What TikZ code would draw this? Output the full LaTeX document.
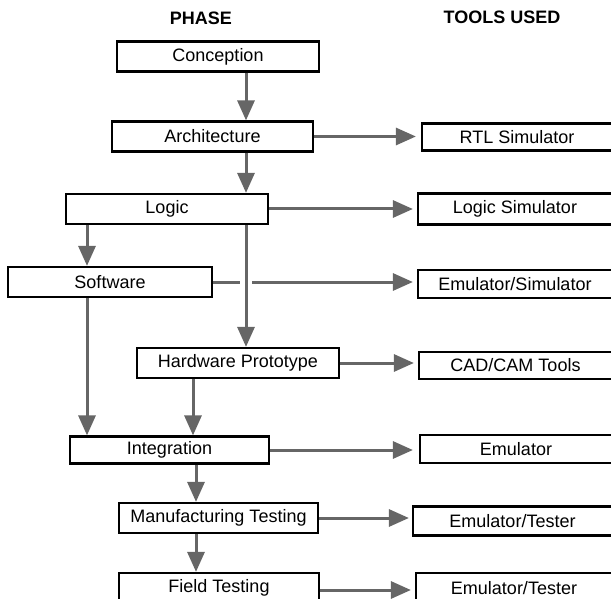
\documentclass[tikz,border=0pt]{standalone}
\usepackage{fontspec}
\setmainfont{Liberation Sans}
\usetikzlibrary{arrows.meta,positioning}

\begin{document}
\begin{tikzpicture}[x=1pt,y=-1pt,
    font=\fontsize{18}{21}\selectfont,
    ph/.style={draw,line width=2.2pt,minimum height=30pt,inner sep=0pt,align=center},
    tl/.style={draw,line width=2.2pt,minimum height=28pt,inner sep=0pt,align=center},
    hd/.style={font=\fontsize{18}{21}\selectfont\bfseries},
    flow/.style={draw=black!60,line width=3pt,-{Triangle[width=17pt,length=20pt]}}
  ]
    \useasboundingbox (0,0) rectangle (611,599);
    \node[hd] (phase) at (201,18) {PHASE};
    \node[hd] (tools) at (502,17) {TOOLS USED};
    % phases
    \node[ph,minimum width=202pt] (conc) at (218,56.5) {Conception};
    \node[ph,minimum width=201pt] (arch) at (212.5,136.5) {Architecture};
    \node[ph,minimum width=202pt] (logic) at (167,209) {Logic};
    \node[ph,minimum width=204pt] (soft) at (110,282) {Software};
    \node[ph,minimum width=202pt] (hw) at (238,363) {Hardware Prototype};
    \node[ph,minimum width=199pt,minimum height=27pt] (integ) at (169.5,450) {Integration};
    \node[ph,minimum width=199pt] (mfg) at (218.5,518) {Manufacturing Testing};
    \node[ph,minimum width=200pt] (field) at (219,588) {Field Testing};
    % tools
    \node[tl,minimum width=190pt,minimum height=27pt] (rtl) at (517,137) {RTL Simulator};
    \node[tl,minimum width=194pt,minimum height=31pt] (lsim) at (515,209) {Logic Simulator};
    \node[tl,minimum width=194pt] (esim) at (515,284) {Emulator/Simulator};
    \node[tl,minimum width=193pt,minimum height=27pt] (cad) at (515.5,365.5) {CAD/CAM Tools};
    \node[tl,minimum width=192pt] (emu) at (516,449) {Emulator};
    \node[tl,minimum width=199pt,minimum height=29pt] (tst1) at (512.5,521) {Emulator/Tester};
    \node[tl,minimum width=196pt,minimum height=30pt] (tst2) at (514,588) {Emulator/Tester};
    % columns of the vertical flows
    \coordinate (colA) at (87,0);
    \coordinate (colB) at (193,0);
    \coordinate (colC) at (196,0);
    \coordinate (colD) at (246,0);
    \draw[flow] (conc.south -| colD) -- (arch.north -| colD);
    \draw[flow] (arch.south -| colD) -- (logic.north -| colD);
    \draw[flow] (logic.south -| colA) -- (soft.north -| colA);
    \draw[flow] (logic.south -| colD) -- (hw.north -| colD);
    \draw[flow] (soft.south -| colA) -- (integ.north -| colA);
    \draw[flow] (hw.south -| colB) -- (integ.north -| colB);
    \draw[flow] (integ.south -| colC) -- (mfg.north -| colC);
    \draw[flow] (mfg.south -| colC) -- (field.north -| colC);
    % to the tools
    \draw[flow,shorten >=5pt] (arch.east) -- (arch.east -| rtl.west);
    \draw[flow,shorten >=4pt] (logic.east) -- (logic.east -| lsim.west);
    \draw[flow,-] (soft.east) -- ([xshift=-6pt]soft.east -| colD);
    \draw[flow,shorten >=4pt] ([xshift=6pt]soft.east -| colD) -- (soft.east -| esim.west);
    \draw[flow,shorten >=4pt] (hw.east) -- (hw.east -| cad.west);
    \draw[flow,shorten >=6pt] (integ.east) -- (integ.east -| emu.west);
    \draw[flow,shorten >=3pt] (mfg.east) -- (mfg.east -| tst1.west);
    \draw[flow,shorten >=4pt] ([yshift=-2pt]field.east) -- ([yshift=-2pt]field.east -| tst2.west);
\end{tikzpicture}
\end{document}
